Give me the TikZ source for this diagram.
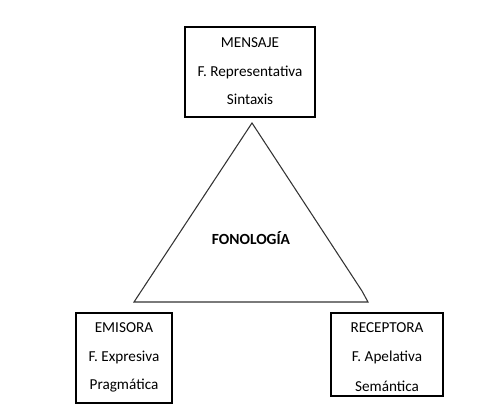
\documentclass[tikz,border=0pt]{standalone}
\usepackage{fontspec}
\setmainfont{Carlito}
\begin{document}
\begin{tikzpicture}[x=0.75pt,y=-0.75pt,
  boxst/.style={draw=black,line width=0.9pt,fill=white},
  txt/.style={font=\fontsize{11.4}{13}\selectfont,inner sep=0pt},
  tri/.style={draw=black!80,line width=0.8pt,line join=miter}]
\useasboundingbox (0,0) rectangle (477,410);
% boxes
\draw[boxst] (185,27) rectangle (315,117);
\draw[boxst] (76,313) rectangle (172,403);
\draw[boxst] (331,313) rectangle (443,396);
% triangle
\coordinate (apex) at (252,123);
\coordinate (bl) at (134,302);
\coordinate (br) at (368,302);
\coordinate (bend) at (362,291);
\draw[tri] (apex) -- (bend) -- (br) -- (bl) -- cycle;
\node[txt,font=\fontsize{11.6}{13}\selectfont\bfseries] (fon) at (251,238) {FONOLOGÍA};
% top texts
\node[txt] (m1) at (250,43) {MENSAJE};
\node[txt] (m2) at (250,72) {F. Representativa};
\node[txt] (m3) at (250,99) {Sintaxis};
% left texts
\node[txt] (e1) at (124,328) {EMISORA};
\node[txt] (e2) at (124,357) {F. Expresiva};
\node[txt] (e3) at (124,386) {Pragmática};
% right texts
\node[txt] (r1) at (387,328) {RECEPTORA};
\node[txt] (r2) at (387,357) {F. Apelativa};
\node[txt] (r3) at (387,386) {Semántica};
\end{tikzpicture}
\end{document}
